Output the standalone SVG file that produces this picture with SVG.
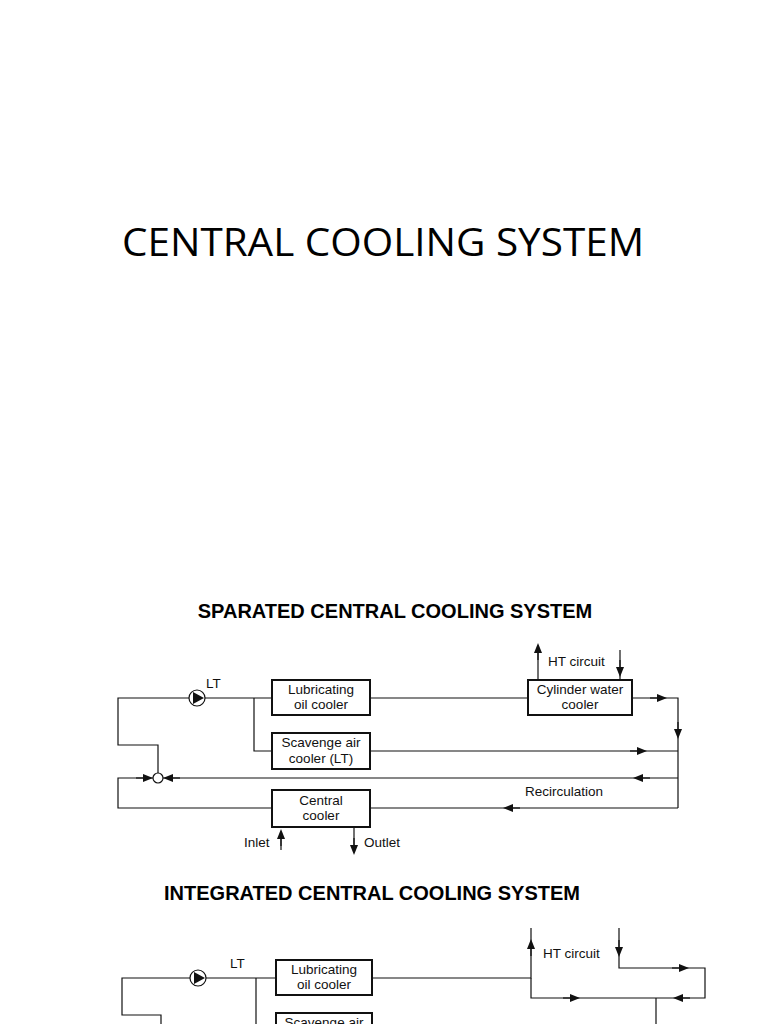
<svg xmlns="http://www.w3.org/2000/svg" width="768" height="1024" viewBox="0 0 768 1024">
<defs>
<style>
.l{fill:none;stroke:#111;stroke-width:1.2}
.b{fill:#fff;stroke:#111;stroke-width:2}
.t{font-family:"Liberation Sans",Arial,sans-serif;font-size:13.5px;fill:#111}
.tc{text-anchor:middle}
.h{font-family:"Liberation Sans",Arial,sans-serif;font-weight:bold;font-size:20px;fill:#000;text-anchor:middle}
</style>
<marker id="a" viewBox="0 0 10 10" refX="5" refY="5" markerWidth="13" markerHeight="10" orient="auto" markerUnits="userSpaceOnUse"><path d="M0,1 L10,5 L0,9 Z" fill="#111"/></marker>
</defs>
<rect width="768" height="1024" fill="#fff"/>
<text x="383" y="256" font-family="'Open Sans','Liberation Sans',sans-serif" font-size="38" text-anchor="middle" textLength="522" lengthAdjust="spacingAndGlyphs" fill="#000">CENTRAL COOLING SYSTEM</text>
<text class="h" x="395" y="618">SPARATED CENTRAL COOLING SYSTEM</text>
<text class="h" x="372" y="900">INTEGRATED CENTRAL COOLING SYSTEM</text>

<g id="connectors">
<path class="l" d="M189,698 H118 V745 H158 V773"/>
<path class="l" d="M205,698 H272"/>
<path class="l" d="M254,698 V751 H272"/>
<path class="l" d="M370,698 H528"/>
<path class="l" d="M632,698 H678 V808"/>
<path class="l" d="M370,751 H678"/>
<path class="l" d="M678,778 H163"/>
<path class="l" d="M153,778 H118 V808 H272"/>
<path class="l" d="M370,808 H678"/>
<path class="l" d="M538,680 V650"/>
<path class="l" d="M620,650 V680"/>
<path class="l" d="M281,850 V832"/>
<path class="l" d="M354,827 V850"/>
<path class="l" d="M650,698 h12" marker-end="url(#a)"/>
<path class="l" d="M678,722 v12" marker-end="url(#a)"/>
<path class="l" d="M630,751 h12" marker-end="url(#a)"/>
<path class="l" d="M650,778 h-12" marker-end="url(#a)"/>
<path class="l" d="M180,778 h-12" marker-end="url(#a)"/>
<path class="l" d="M136,778 h12" marker-end="url(#a)"/>
<path class="l" d="M520,808 h-12" marker-end="url(#a)"/>
<path class="l" d="M538,660 v-12" marker-end="url(#a)"/>
<path class="l" d="M620,660 v12" marker-end="url(#a)"/>
<path class="l" d="M281,846 v-12" marker-end="url(#a)"/>
<path class="l" d="M354,838 v12" marker-end="url(#a)"/>
<circle cx="158" cy="778" r="5" fill="#fff" stroke="#111" stroke-width="1.2"/>
<path class="l" d="M190,978 H122 V1015 H161 V1024"/>
<path class="l" d="M206,978 H275"/>
<path class="l" d="M256,978 V1024"/>
<path class="l" d="M373,978 H531 V928"/>
<path class="l" d="M531,978 V998 H705 V968 H619 V928"/>
<path class="l" d="M656,998 V1024"/>
<path class="l" d="M531,956 v-12" marker-end="url(#a)"/>
<path class="l" d="M619,940 v12" marker-end="url(#a)"/>
<path class="l" d="M672,968 h12" marker-end="url(#a)"/>
<path class="l" d="M563,998 h12" marker-end="url(#a)"/>
<path class="l" d="M690,998 h-12" marker-end="url(#a)"/>
</g>

<g id="pump1"><circle cx="197" cy="698" r="8" fill="#fff" stroke="#111" stroke-width="1.2"/><path d="M193,692 L204,698 L193,704 Z" fill="#111"/><text class="t" x="206" y="688">LT</text></g>
<g id="lub1"><rect class="b" x="272" y="680" width="98" height="35"/><text class="t tc" x="321" y="694">Lubricating</text><text class="t tc" x="321" y="709">oil cooler</text></g>
<g id="scav1"><rect class="b" x="272" y="733" width="98" height="36"/><text class="t tc" x="321" y="747">Scavenge air</text><text class="t tc" x="321" y="763">cooler (LT)</text></g>
<g id="cyl1"><rect class="b" x="528" y="680" width="104" height="35"/><text class="t tc" x="580" y="694">Cylinder water</text><text class="t tc" x="580" y="709">cooler</text></g>
<g id="central1"><rect class="b" x="272" y="790" width="98" height="37"/><text class="t tc" x="321" y="805">Central</text><text class="t tc" x="321" y="820">cooler</text></g>
<g id="labels1">
<text class="t" x="548" y="666">HT circuit</text>
<text class="t" x="525" y="796">Recirculation</text>
<text class="t" x="244" y="847">Inlet</text>
<text class="t" x="364" y="847">Outlet</text>
</g>

<g id="pump2"><circle cx="198" cy="978" r="8" fill="#fff" stroke="#111" stroke-width="1.2"/><path d="M194,972 L205,978 L194,984 Z" fill="#111"/><text class="t" x="230" y="968">LT</text></g>
<g id="lub2"><rect class="b" x="276" y="960" width="96" height="35"/><text class="t tc" x="324" y="974">Lubricating</text><text class="t tc" x="324" y="989">oil cooler</text></g>
<g id="scav2"><rect class="b" x="276" y="1013" width="96" height="20"/><text class="t tc" x="324" y="1027">Scavenge air</text></g>
<g id="labels2"><text class="t" x="543" y="958">HT circuit</text></g>
</svg>
